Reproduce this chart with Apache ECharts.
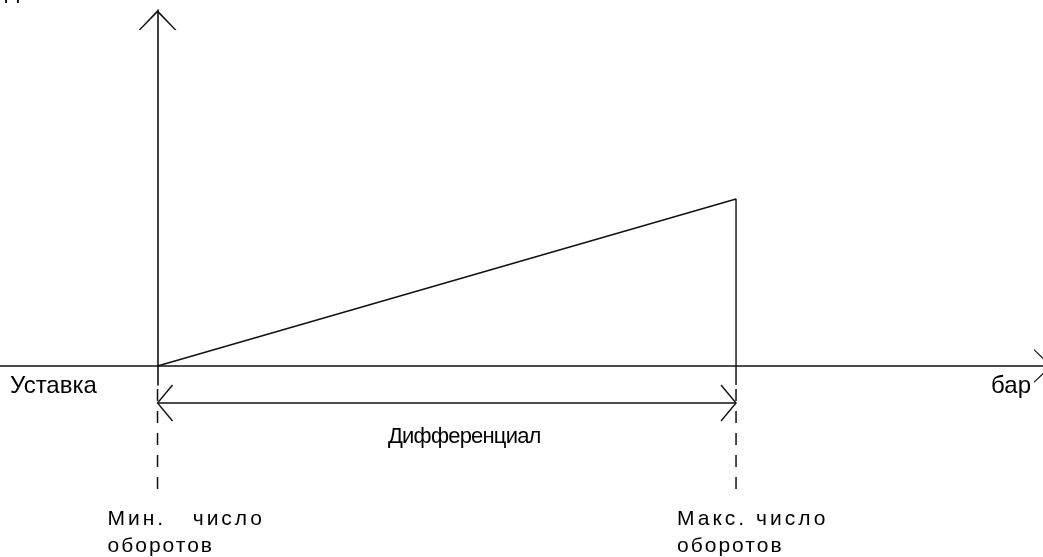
<!DOCTYPE html>
<html>
<head>
<meta charset="utf-8">
<script src="https://cdn.jsdelivr.net/npm/echarts@6/dist/echarts.min.js"></script>
<style>
  html, body { margin: 0; padding: 0; background: #fff; }
  #chart { width: 1043px; height: 557px; }
</style>
</head>
<body>
<div id="chart"></div>
<script>
// Пропорциональное регулирование: обороты растут от уставки до уставки + дифференциал
const pressurePoints = [0, 1, 1];      // давление над уставкой, в долях дифференциала
const speedPoints = [0, 100, 0];       // число оборотов, %
const rangeEnds = [0, 1];              // точки мин. и макс. числа оборотов
const rangeLabels = ['Мин.   число\nоборотов', 'Макс. число\nоборотов'];
const spanLabel = 'Дифференциал';
const originLabel = 'Уставка';
const unitLabel = 'бар';
const topLabel = 'Давление нагнетания';

const FONT = '"Liberation Sans", Arial, sans-serif';
const INK = '#111';

// межбуквенный интервал для отдельных подписей (canvas letterSpacing)
const TRACKING = {
  'Мин.   число': '3px',
  'Макс. число': '3px',
  'оборотов': '2px',
  'Дифференциал': '-0.8px'
};
const nativeFillText = CanvasRenderingContext2D.prototype.fillText;
CanvasRenderingContext2D.prototype.fillText = function (text, x, y, maxWidth) {
  if ('letterSpacing' in this) this.letterSpacing = TRACKING[text] || '0px';
  return maxWidth === undefined
    ? nativeFillText.call(this, text, x, y)
    : nativeFillText.call(this, text, x, y, maxWidth);
};

// открытая стрелка-«галочка» на концах осей
const CHEVRON = 'path://M0,20 L19,0 L38,20 L36.2,20 L19,2.4 L1.8,20 Z';

const chart = echarts.init(document.getElementById('chart'), null, { renderer: 'canvas' });

const axisBase = {
  type: 'value',
  axisTick: { show: false },
  axisLabel: { show: false },
  splitLine: { show: false }
};

chart.setOption({
  animation: false,
  backgroundColor: '#fff',
  grid: { left: 0, right: -10, top: 10, bottom: 172, outerBoundsMode: 'none' },
  xAxis: Object.assign({}, axisBase, {
    min: -0.2723, max: 1.5479,
    axisLine: {
      onZero: true,
      symbol: ['none', CHEVRON],
      symbolSize: [34, 20],
      symbolOffset: [0, -10],
      lineStyle: { color: INK, width: 1.6 }
    }
  }),
  yAxis: Object.assign({}, axisBase, {
    min: -11.38, max: 213.17,
    axisLine: {
      onZero: true,
      symbol: ['none', CHEVRON],
      symbolSize: [38, 20],
      symbolOffset: [0, -10],
      lineStyle: { color: INK, width: 1.6 }
    }
  }),
  series: [{
    type: 'line',
    data: pressurePoints.map((p, i) => [p, speedPoints[i]]),
    symbol: 'none',
    clip: false,
    lineStyle: { color: INK, width: 1.4 }
  }]
});

// выноски, размерная стрелка и подписи
const px = v => chart.convertToPixel({ xAxisIndex: 0 }, v);
const py = v => chart.convertToPixel({ yAxisIndex: 0 }, v);
const xMin = px(rangeEnds[0]);
const xMax = px(rangeEnds[1]);
const yZero = py(0);
const guideTop = 385, dashTop = 389, dashBottom = 498;
const arrowY = 403, headLen = 15, headHalf = 18;

const line = (x1, y1, x2, y2, dash) => ({
  type: 'line',
  shape: { x1, y1, x2, y2 },
  style: { stroke: INK, lineWidth: 1.5, lineDash: dash || null }
});
const poly = pts => ({
  type: 'polyline',
  shape: { points: pts },
  style: { stroke: INK, lineWidth: 1.4, fill: null }
});
const text = (str, x, y, opts) => ({
  type: 'text',
  x, y,
  style: Object.assign({
    text: str, fill: '#000', font: '21px ' + FONT,
    align: 'left', verticalAlign: 'middle'
  }, opts || {})
});

const elements = [
  line(xMax, yZero, xMax, guideTop),
  line(xMin, dashTop, xMin, dashBottom, [12, 10]),
  line(xMax, dashTop, xMax, dashBottom, [12, 10]),
  line(xMin, arrowY, xMax, arrowY),
  poly([[xMin + headLen, arrowY - headHalf], [xMin, arrowY], [xMin + headLen, arrowY + headHalf]]),
  poly([[xMax - headLen, arrowY - headHalf], [xMax, arrowY], [xMax - headLen, arrowY + headHalf]]),
  text(originLabel, 10, 386, { font: '24px ' + FONT }),
  text(unitLabel, 1031, 386, { font: '24px ' + FONT, align: 'right' }),
  text(spanLabel, 388, 437, { font: '22px ' + FONT }),
  text(rangeLabels[0], xMin - 50, 533, { lineHeight: 27 }),
  text(rangeLabels[1], xMax - 59, 533, { lineHeight: 27 }),
  text(topLabel, 5, 4, { verticalAlign: 'bottom' })
];

chart.setOption({ graphic: { elements } });
</script>
</body>
</html>
